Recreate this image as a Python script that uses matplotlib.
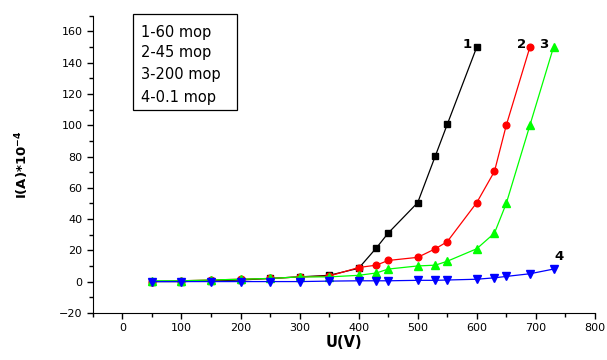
import matplotlib
matplotlib.use("Agg")
import matplotlib.pyplot as plt
from matplotlib.patches import Rectangle
from matplotlib.ticker import MultipleLocator

x1 = [50, 100, 150, 200, 250, 300, 350, 400, 430, 450, 500, 530, 550, 600]
y1 = [0, 0, 0.5, 1, 2, 3, 4, 8.5, 21.5, 31, 50.5, 80.5, 100.5, 150]

x2 = [50, 100, 150, 200, 250, 300, 350, 400, 430, 450, 500, 530, 550, 600, 630, 650, 690]
y2 = [0, 0.5, 1, 1.5, 2, 3, 3.5, 9, 10.5, 13.5, 15.5, 21, 25.5, 50.5, 70.5, 100, 150]

x3 = [50, 100, 150, 200, 250, 300, 350, 400, 430, 450, 500, 530, 550, 600, 630, 650, 690, 730]
y3 = [0.5, 0.5, 1, 1.5, 2, 3, 3, 4, 5.5, 8, 10, 10.5, 13, 21, 31, 50, 100, 150]

x4 = [50, 100, 150, 200, 250, 300, 350, 400, 430, 450, 500, 530, 550, 600, 630, 650, 690, 730]
y4 = [0, 0, 0, 0, 0, 0, 0.3, 0.5, 0.5, 0.5, 0.8, 0.8, 1, 1.5, 2.4, 3.3, 5, 8]

legend_lines = ["1-60 mop", "2-45 mop", "3-200 mop", "4-0.1 mop"]
curve_labels = ["1", "2", "3", "4"]

fig = plt.figure(figsize=(6.07, 3.6), dpi=100)
ax = fig.add_axes([0.153, 0.131, 0.827, 0.825])

ax.plot(x1, y1, color="black", marker="s", ms=4.3, lw=0.9)
ax.plot(x2, y2, color="#ff0000", marker="o", ms=4.8, lw=0.9)
ax.plot(x3, y3, color="#00ff00", marker="^", ms=5.8, lw=0.9)
ax.plot(x4, y4, color="#0000ff", marker="v", ms=5.8, lw=0.9)

ax.set_xlim(-50, 800)
ax.set_ylim(-20, 170)
ax.xaxis.set_major_locator(MultipleLocator(100))
ax.xaxis.set_minor_locator(MultipleLocator(50))
ax.yaxis.set_major_locator(MultipleLocator(20))
ax.yaxis.set_minor_locator(MultipleLocator(10))
ax.spines["top"].set_visible(False)
ax.spines["right"].set_visible(False)
ax.tick_params(which="major", direction="out", length=4, width=1, labelsize=8)
ax.tick_params(which="minor", direction="out", length=3, width=1)

ax.set_xlabel("U(V)", fontsize=10.5, fontweight="bold", labelpad=1)
ax.set_ylabel(r"I(A)*10$^{\mathbf{-4}}$", fontsize=9.5, fontweight="bold", labelpad=20)

offsets = [(-10, 3), (-8, 3), (-10, 3), (6, 13)]
ends = [(x1[-1], y1[-1]), (x2[-1], y2[-1]), (x3[-1], y3[-1]), (x4[-1], y4[-1])]
for lab, (ex, ey), (dx, dy) in zip(curve_labels, ends, offsets):
    ax.annotate(lab, (ex, ey), xytext=(dx * 0.72, dy * 0.72), textcoords="offset points",
                ha="center", va="center", fontsize=9.5, fontweight="bold")

fig.patches.append(Rectangle((0.219, 0.694), 0.171, 0.267, transform=fig.transFigure,
                             fill=False, edgecolor="black", lw=0.9))
ys = [0.911, 0.853, 0.792, 0.728]
for t, yy in zip(legend_lines, ys):
    fig.text(0.232, yy, t, fontsize=10.5, va="center", ha="left")

fig.savefig("out.png", dpi=100)
